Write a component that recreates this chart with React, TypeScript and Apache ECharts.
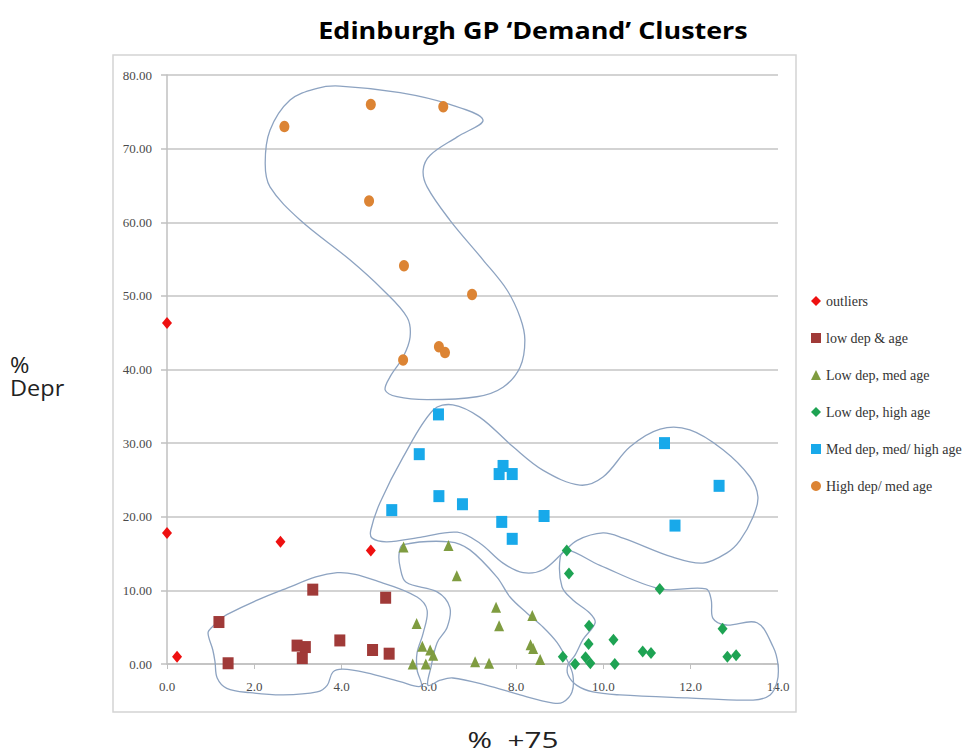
import React, { useEffect, useRef } from "react";
import * as echarts from "echarts";

// ---- data (x = % +75, y = % Depr) ----
const outliers: number[][] = [[0, 46.3], [0, 17.8], [0.23, 1.0], [2.6, 16.6], [4.67, 15.4]];
const lowDepAge: number[][] = [
  [1.19, 5.7], [1.4, 0.1], [2.98, 2.5], [3.17, 2.3], [3.1, 0.8], [3.34, 10.1],
  [3.96, 3.2], [4.71, 1.9], [5.01, 9.0], [5.09, 1.4],
];
const lowDepMedAge: number[][] = [
  [5.42, 15.9], [6.45, 16.1], [6.64, 12.0], [7.54, 7.7], [7.61, 5.2], [8.37, 6.6],
  [5.72, 5.5], [5.85, 2.4], [6.03, 1.9], [6.1, 1.2], [5.63, 0], [5.93, 0],
  [7.06, 0.3], [7.38, 0.1], [8.33, 2.6], [8.39, 2.1], [8.55, 0.6],
];
const lowDepHighAge: number[][] = [
  [9.16, 15.4], [9.21, 12.3], [11.29, 10.2], [12.73, 4.8], [9.67, 5.2], [9.66, 2.7],
  [10.23, 3.3], [9.07, 1.0], [9.35, 0], [9.59, 0.9], [9.7, 0.1], [10.26, 0],
  [10.9, 1.7], [11.09, 1.5], [12.84, 1.0], [13.04, 1.2],
];
const medDep: number[][] = [
  [6.22, 33.9], [5.78, 28.5], [7.7, 26.9], [7.61, 25.8], [7.91, 25.8], [6.23, 22.8],
  [6.77, 21.7], [5.15, 20.9], [7.67, 19.3], [7.91, 17.0], [8.64, 20.1],
  [11.4, 30.0], [12.65, 24.2], [11.64, 18.8],
];
const highDep: number[][] = [
  [2.69, 73.0], [4.67, 76.0], [6.33, 75.7], [4.63, 62.9], [5.43, 54.1],
  [6.99, 50.2], [5.41, 41.3], [6.23, 43.1], [6.37, 42.3],
];

const seriesNames = [
  "outliers",
  "low dep & age",
  "Low dep, med age",
  "Low dep, high age",
  "Med dep, med/ high age",
  "High dep/ med age",
];

const xTicks = [0, 2, 4, 6, 8, 10, 12, 14];
const yTicks = [0, 10, 20, 30, 40, 50, 60, 70, 80];

// hand-drawn cluster outlines (data coordinates)
const outlineHigh: number[][] = [
  [3.96, 78.5], [5.34, 77.6], [6.48, 76.0], [7.24, 73.9], [6.65, 71.6], [6.03, 69.1],
  [5.87, 67.1], [5.96, 64.8], [6.48, 60.3], [7.24, 54.9], [7.79, 50.8], [8.09, 47.1],
  [8.2, 44.0], [8.09, 40.3], [7.7, 37.6], [7.1, 36.3], [5.96, 35.9], [5.27, 36.3],
  [5.0, 37.2], [5.11, 39.0], [5.41, 41.7], [5.57, 44.4], [5.5, 47.1], [4.95, 50.8],
  [4.19, 54.9], [3.05, 60.3], [2.36, 64.8], [2.25, 68.0], [2.36, 72.5], [2.82, 76.6],
  [3.44, 78.2],
];
const outlineMed: number[][] = [
  [6.55, 35.2], [7.17, 33.5], [7.93, 29.5], [8.62, 26.3], [9.46, 24.3], [9.99, 25.4],
  [10.61, 29.5], [11.3, 31.9], [11.98, 31.8], [12.74, 29.1], [13.36, 25.4], [13.54, 22.7],
  [13.43, 20.0], [13.13, 16.8], [12.83, 15.1], [12.28, 13.7], [11.59, 14.5], [10.45, 17.1],
  [9.99, 17.8], [9.4, 16.8], [9.07, 15.1], [8.62, 12.8], [8.16, 12.4], [7.7, 13.7],
  [7.17, 16.4], [6.65, 17.9], [5.8, 17.2], [5.04, 16.6], [4.7, 17.1], [4.67, 18.2],
  [4.88, 21.9], [5.41, 28.1], [6.1, 34.5],
];
const outlineLowAge: number[][] = [
  [0.94, 4.2], [1.03, 5.0], [1.37, 6.7], [2.66, 10.1], [3.9, 12.4], [4.95, 11.0],
  [5.73, 9.1], [5.96, 7.3], [5.87, 4.2], [5.73, 1.5], [5.73, -0.8], [5.82, -3.0],
  [5.34, -2.4], [4.58, -1.2], [4.03, -0.7], [3.8, -1.1], [3.67, -2.9], [3.44, -3.8],
  [2.66, -4.2], [1.9, -3.9], [1.37, -3.3], [1.15, -1.9], [1.1, 0.3], [1.05, 1.9],
];
const outlineMedAge: number[][] = [
  [5.41, 16.2], [6.48, 16.6], [6.94, 15.5], [7.56, 11.8], [7.86, 9.1], [8.25, 6.9],
  [8.62, 5.0], [8.94, 2.9], [9.17, 0.5], [9.3, -1.5], [9.28, -3.8], [9.07, -5.2],
  [8.85, -5.3], [8.09, -4.2], [7.33, -2.9], [6.55, -1.9], [6.26, -2.2], [5.98, -2.9],
  [6.05, -0.4], [6.19, 2.9], [6.42, 5.0], [6.48, 7.7], [6.19, 9.8], [5.48, 11.1],
  [5.34, 13.2], [5.32, 15.1],
];
const outlineHighAge: number[][] = [
  [9.17, 15.5], [9.92, 13.4], [11.3, 10.2], [12.35, 10.2], [12.47, 8.7], [12.51, 6.2],
  [12.81, 5.3], [13.52, 5.6], [13.89, 2.3], [14.0, -0.1], [13.98, -2.4], [13.82, -4.2],
  [13.43, -4.9], [11.92, -4.6], [10.38, -4.2], [9.76, -3.8], [9.39, -2.9], [9.19, -1.5],
  [9.19, -0.1], [9.35, 1.2], [9.53, 3.3], [9.81, 5.6], [9.69, 6.9], [9.3, 8.7],
  [9.05, 10.5], [9.01, 14.5],
];
const outlines = [outlineHigh, outlineMed, outlineLowAge, outlineMedAge, outlineHighAge];

const labelFont = "'Liberation Serif', 'DejaVu Serif', serif";
const sansFont = "'Open Sans', 'Noto Sans', sans-serif";

export default function App() {
  const ref = useRef<HTMLDivElement>(null);
  useEffect(() => {
    if (!ref.current) return;
    const chart = echarts.init(ref.current, undefined, { renderer: "svg" });

    const outlineSeries = outlines.map((pts, i) => ({
      type: "custom",
      name: "outline" + i,
      silent: true,
      z: 1,
      clip: false,
      data: [pts[0]],
      renderItem: (_params: any, api: any) => ({
        type: "polygon",
        shape: { points: pts.map((p) => api.coord(p)), smooth: 0.35 },
        style: { fill: "none", stroke: "#8da3c1", lineWidth: 1.3 },
      }),
    }));

    const scatter = (name: string, data: number[][], symbol: string, size: any, color: string) => ({
      type: "scatter",
      name,
      data,
      symbol,
      symbolSize: size,
      itemStyle: { color, opacity: 1 },
      z: 3,
    });

    chart.setOption({
      animation: false,
      backgroundColor: "#ffffff",
      grid: { left: 167, right: 189, top: 75, bottom: 92, containLabel: false },
      legend: {
        orient: "vertical",
        left: 806,
        top: 288,
        itemGap: 21,
        itemWidth: 10,
        itemHeight: 10,
        data: seriesNames,
        textStyle: { fontFamily: labelFont, fontSize: 14, color: "#333", lineHeight: 16 },
        selectedMode: false,
      },
      xAxis: {
        type: "value",
        min: xTicks[0],
        max: xTicks[xTicks.length - 1],
        interval: 2,
        splitLine: { show: false },
        axisLine: { show: true, onZero: false, lineStyle: { color: "#c0c0c0", width: 1.5 } },
        axisTick: { show: true, length: 5, lineStyle: { color: "#c0c0c0" } },
        axisLabel: {
          formatter: (v: number) => v.toFixed(1),
          fontFamily: labelFont,
          fontSize: 13,
          color: "#4a4a4a",
          margin: 16,
        },
      },
      yAxis: {
        type: "value",
        min: yTicks[0],
        max: yTicks[yTicks.length - 1],
        interval: 10,
        splitLine: { show: true, lineStyle: { color: "#c4c4c4", width: 1.6 } },
        axisLine: { show: true, lineStyle: { color: "#c0c0c0", width: 1.5 } },
        axisTick: { show: true, length: 6, lineStyle: { color: "#c0c0c0", width: 1.5 } },
        axisLabel: {
          formatter: (v: number) => v.toFixed(2),
          fontFamily: labelFont,
          fontSize: 13,
          color: "#4a4a4a",
          margin: 15,
        },
      },
      graphic: [
        {
          type: "rect",
          z: -10,
          silent: true,
          shape: { x: 113, y: 55, width: 683, height: 657 },
          style: { fill: "none", stroke: "#d4d4d4", lineWidth: 1.5 },
        },
        {
          type: "text",
          x: 533,
          y: 30,
          scaleX: 1.17,
          style: {
            text: "Edinburgh GP \u2018Demand\u2019 Clusters",
            fontFamily: sansFont,
            fontWeight: "bold",
            fontSize: 23,
            fill: "#000",
            align: "center",
            verticalAlign: "middle",
          },
        },
        {
          type: "text",
          x: 10,
          y: 353,
          scaleX: 1.12,
          style: { text: "%\nDepr", fontFamily: sansFont, fontSize: 21, lineHeight: 23, fill: "#222" },
        },
        {
          type: "text",
          x: 513,
          y: 740,
          scaleX: 1.35,
          style: {
            text: "%  +75",
            fontFamily: sansFont,
            fontSize: 22,
            fill: "#222",
            align: "center",
            verticalAlign: "middle",
          },
        },
      ],
      series: [
        ...outlineSeries,
        scatter(seriesNames[0], outliers, "diamond", [10, 12], "#ee1010"),
        scatter(seriesNames[1], lowDepAge, "rect", [11, 12], "#a03a38"),
        scatter(seriesNames[2], lowDepMedAge, "triangle", [10, 11], "#7f9c40"),
        scatter(seriesNames[3], lowDepHighAge, "diamond", [10, 12], "#1ea353"),
        scatter(seriesNames[4], medDep, "rect", [11, 12], "#18a9ea"),
        scatter(seriesNames[5], highDep, "circle", [10, 11.5], "#dc8434"),
      ],
    });
    return () => chart.dispose();
  }, []);
  return (
    <div
      ref={ref}
      style={{ position: "absolute", left: 0, top: 0, width: 967, height: 756 }}
    />
  );
}
